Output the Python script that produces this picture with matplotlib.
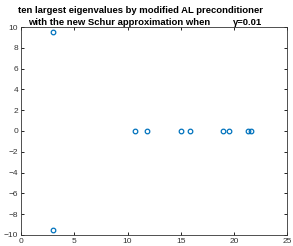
import matplotlib
matplotlib.use("Agg")
import matplotlib.pyplot as plt

plt.rcParams['font.family'] = ['Liberation Sans', 'DejaVu Sans']

# eigenvalues: real part, imaginary part
re_part = [3.0, 3.0, 10.7, 11.8, 15.0, 15.9, 19.0, 19.5, 21.3, 21.6]
im_part = [9.5, -9.5, 0, 0, 0, 0, 0, 0, 0, 0]
xticks = [0, 5, 10, 15, 20, 25]
yticks = [-10, -8, -6, -4, -2, 0, 2, 4, 6, 8, 10]

fig = plt.figure(figsize=(2.93, 2.46), dpi=100)
ax = fig.add_axes([0.072, 0.045, 0.908, 0.845])
ax.plot(re_part, im_part, 'o', mfc='none', mec='#0072BD', ms=3.3, mew=0.9)
ax.set_xlim(0, 25)
ax.set_ylim(-10, 10)
ax.set_xticks(xticks)
ax.set_yticks(yticks)
ax.tick_params(direction='in', length=2.5, width=0.6, labelsize=6,
               labelcolor='#333333', top=True, right=True, pad=2)
for s in ax.spines.values():
    s.set_linewidth(0.6)
    s.set_color('#333333')

fig.text(0.48, 0.975, 'ten largest eigenvalues by modified AL preconditioner',
         ha='center', va='top', fontsize=6.8, fontweight='bold')
fig.text(0.405, 0.928, 'with the new Schur approximation when',
         ha='center', va='top', fontsize=6.8, fontweight='bold')
fig.text(0.795, 0.928, '\u03b3=0.01', ha='left', va='top',
         fontsize=6.8, fontweight='bold')

fig.savefig('out.png', dpi=100)
